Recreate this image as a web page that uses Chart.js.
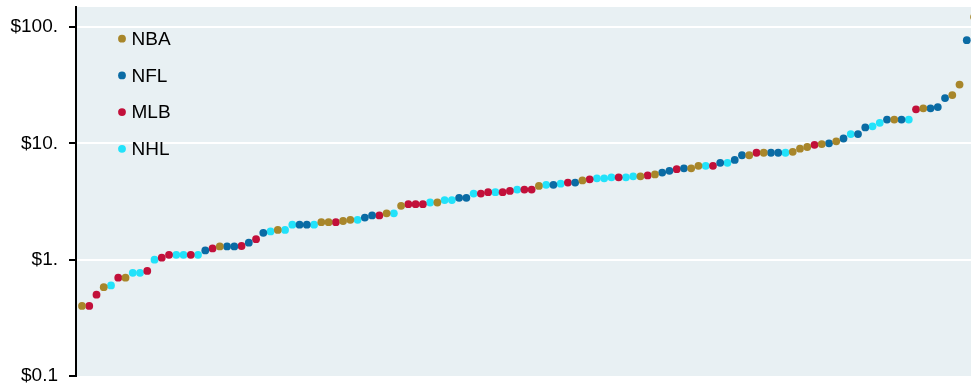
<!DOCTYPE html>
<html>
<head>
<meta charset="utf-8">
<script src="https://cdn.jsdelivr.net/npm/chart.js@4.4.1/dist/chart.umd.min.js"></script>
<style>
  html, body { margin: 0; padding: 0; background: #ffffff; }
  #wrap { width: 971px; height: 385px; }
</style>
</head>
<body>
<div id="wrap"><canvas id="chart" width="971" height="385"></canvas></div>
<script>
// Leagues shown in the legend, in legend order
const leagues = ['NBA', 'NFL', 'MLB', 'NHL'];
const leagueColors = ['#a8862a', '#0a6ba4', '#c2103a', '#22e2fa'];

// Teams ranked from cheapest to most expensive: league of each team
const pointLeague = [
  'NBA','MLB','MLB','NBA','NHL','MLB','NBA','NHL','NHL','MLB',
  'NHL','MLB','MLB','NHL','NHL','MLB','NHL','NFL','MLB','NBA',
  'NFL','NFL','MLB','NFL','MLB','NFL','NHL','NBA','NHL','NHL',
  'NFL','NFL','NHL','NBA','NBA','MLB','NBA','NBA','NHL','NFL',
  'NFL','MLB','NBA','NHL','NBA','MLB','MLB','MLB','NHL','NBA',
  'NHL','NHL','NFL','NFL','NHL','MLB','MLB','NHL','MLB','MLB',
  'NHL','MLB','MLB','NBA','NHL','NFL','NHL','MLB','NFL','NBA',
  'MLB','NHL','NHL','NHL','MLB','NHL','NHL','NBA','MLB','NBA',
  'NFL','NFL','MLB','NFL','NBA','NBA','NHL','MLB','NFL','NHL',
  'NFL','NFL','NBA','MLB','NBA','NFL','NFL','NHL','NBA','NBA',
  'NBA','MLB','NBA','NFL','NBA','NFL','NHL','NFL','NFL','NHL',
  'NHL','NFL','NBA','NFL','NHL','MLB','NBA','NFL','NFL','NFL',
  'NBA','NBA','NFL','NBA'
];

// Dollar value for each ranked team (same order)
const pointValue = [
  0.40, 0.40, 0.50, 0.58, 0.60, 0.70, 0.70, 0.77, 0.77, 0.80,
  1.00, 1.04, 1.10, 1.10, 1.10, 1.10, 1.10, 1.20, 1.25, 1.30,
  1.30, 1.30, 1.31, 1.40, 1.50, 1.70, 1.75, 1.80, 1.80, 2.00,
  2.00, 2.00, 2.00, 2.10, 2.10, 2.10, 2.15, 2.20, 2.20, 2.30,
  2.40, 2.40, 2.50, 2.50, 2.90, 3.00, 3.00, 3.00, 3.10, 3.10,
  3.25, 3.25, 3.40, 3.40, 3.70, 3.70, 3.80, 3.80, 3.80, 3.90,
  4.00, 4.00, 4.00, 4.30, 4.40, 4.40, 4.50, 4.60, 4.60, 4.80,
  4.90, 5.00, 5.00, 5.10, 5.10, 5.10, 5.20, 5.20, 5.30, 5.40,
  5.60, 5.80, 6.00, 6.10, 6.10, 6.40, 6.40, 6.40, 6.80, 6.80,
  7.20, 7.90, 7.90, 8.30, 8.30, 8.30, 8.30, 8.30, 8.45, 9.00,
  9.30, 9.70, 9.85, 10.0, 10.4, 11.0, 12.0, 12.0, 13.7, 14.0,
  15.0, 16.0, 16.0, 16.0, 16.0, 19.6, 20.0, 20.0, 20.5, 24.5,
  26.0, 32.0, 77.0, 122.0
];

// Y axis ticks and their labels
const tickValues = [0.1, 1, 10, 100];
const tickLabels = ['$0.1', '$1.', '$10.', '$100.'];

const FONT = "'Liberation Sans', Arial, Helvetica, sans-serif";

const datasets = leagues.map((lg, i) => ({
  label: lg,
  data: pointValue
    .map((v, k) => ({ x: k + 1, y: v, lg: pointLeague[k] }))
    .filter(p => p.lg === lg)
    .map(p => ({ x: p.x, y: p.y })),
  backgroundColor: leagueColors[i],
  borderWidth: 0,
  pointRadius: 3.9,
  pointHoverRadius: 3.9
}));

// Light panel behind the plotting area
const panelBackground = {
  id: 'panelBackground',
  beforeDraw(chart) {
    const { ctx, chartArea: a } = chart;
    ctx.save();
    ctx.fillStyle = '#e8f0f3';
    ctx.fillRect(a.left, a.top, chart.width - a.left, a.bottom - a.top);
    ctx.restore();
  }
};

// Legend drawn inside the panel, top-left
const insideLegend = {
  id: 'insideLegend',
  afterDraw(chart) {
    const { ctx } = chart;
    ctx.save();
    ctx.font = '19px ' + FONT;
    ctx.textBaseline = 'middle';
    ctx.textAlign = 'left';
    leagues.forEach((lg, i) => {
      const y = 38.7 + i * 36.7;
      ctx.beginPath();
      ctx.arc(122, y, 3.9, 0, Math.PI * 2);
      ctx.fillStyle = leagueColors[i];
      ctx.fill();
      ctx.fillStyle = '#000000';
      ctx.fillText(lg, 131.5, y + 1);
    });
    ctx.restore();
  }
};

new Chart(document.getElementById('chart'), {
  type: 'scatter',
  data: { datasets },
  options: {
    responsive: false,
    animation: false,
    layout: { autoPadding: false, padding: { top: 7, bottom: 9, left: 0, right: 0 } },
    plugins: {
      legend: { display: false },
      tooltip: { enabled: false }
    },
    scales: {
      x: {
        type: 'linear',
        display: false,
        min: 0.173,
        max: 123.58
      },
      y: {
        type: 'logarithmic',
        min: 0.1,
        max: 148.5,
        afterFit(scale) {
          scale.width = 76;
          scale.paddingTop = 0;
          scale.paddingBottom = 0;
        },
        afterBuildTicks(scale) {
          scale.ticks = tickValues.map(v => ({ value: v }));
        },
        ticks: {
          color: '#000000',
          font: { family: FONT, size: 19 },
          padding: 11,
          autoSkip: false,
          callback: (value, index) => tickLabels[index]
        },
        grid: {
          color: ctx => (ctx.tick && ctx.tick.value === 0.1) ? 'rgba(0,0,0,0)' : '#ffffff',
          lineWidth: 2,
          drawTicks: true,
          tickLength: 7,
          tickColor: '#000000',
          tickWidth: 2
        },
        border: { display: true, color: '#000000', width: 2 }
      }
    }
  },
  plugins: [panelBackground, insideLegend]
});
</script>
</body>
</html>
